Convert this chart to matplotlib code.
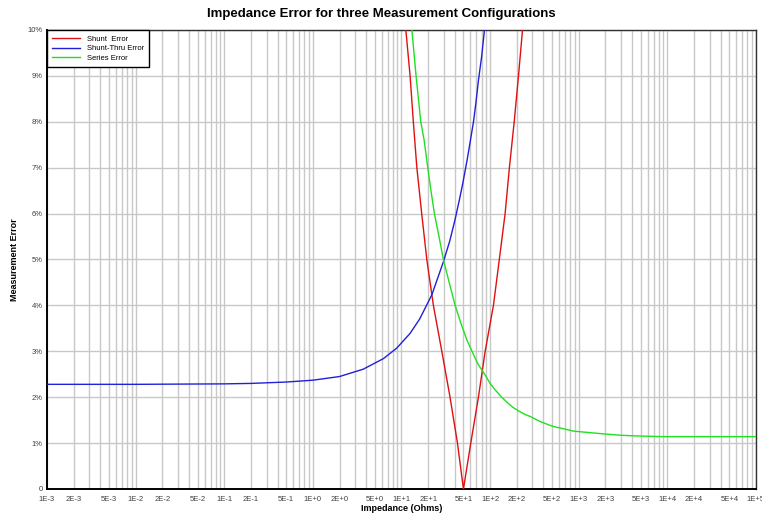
import matplotlib
matplotlib.use("Agg")
import matplotlib.pyplot as plt
from matplotlib.ticker import FixedLocator, LogLocator, NullFormatter

plt.rcParams['font.family'] = ['Liberation Sans', 'DejaVu Sans']

# values (impedance in ohms, error in %)
shunt_z = [11.2, 12.5, 13.6, 14.9, 16.9, 19.3, 22.9, 28.5, 35.3, 42.8, 50.0,
           60.5, 73.8, 87.9, 109, 127, 147.6, 165, 187, 209, 232]
shunt_err = [10, 9, 8, 7, 6, 5, 4, 3, 2, 1, 0,
             1, 2, 3, 4, 5, 6, 7, 8, 9, 10]

thru_z = [0.001, 0.01, 0.1, 0.2, 0.5, 1, 2, 3.7, 6.25, 8.85, 12.5, 16, 22,
          29.7, 35, 40, 45, 49.2, 55.4, 60, 64.9, 69, 73.8, 80, 86.3]
thru_err = [2.28, 2.28, 2.29, 2.30, 2.33, 2.37, 2.45, 2.61, 2.84, 3.07, 3.39,
            3.70, 4.23, 4.95, 5.4, 5.85, 6.3, 6.66, 7.2, 7.6, 8.0, 8.4, 8.9,
            9.4, 10.0]

series_z = [13.1, 14.6, 16.5, 18.0, 19.8, 21.5, 23.5, 26.5, 29.7, 34.5, 40.3,
            47, 54.6, 63.8, 73, 85.5, 100, 115, 135, 155, 180, 218, 250, 283,
            366, 440, 519, 680, 873, 1300, 1900, 3000, 4520, 9000, 100000]
series_err = [10.0, 9.0, 8.0, 7.6, 7.0, 6.5, 6.0, 5.5, 5.0, 4.5, 4.0,
              3.6, 3.25, 2.96, 2.72, 2.52, 2.30, 2.15, 2.0, 1.89, 1.78, 1.68,
              1.62, 1.58, 1.47, 1.41, 1.36, 1.31, 1.26, 1.23, 1.20, 1.17,
              1.155, 1.14, 1.14]

x_ticks = [1e-3, 2e-3, 5e-3, 1e-2, 2e-2, 5e-2, 1e-1, 2e-1, 5e-1, 1e0, 2e0, 5e0,
           1e1, 2e1, 5e1, 1e2, 2e2, 5e2, 1e3, 2e3, 5e3, 1e4, 2e4, 5e4, 1e5]
x_labels = ['1E-3', '2E-3', '5E-3', '1E-2', '2E-2', '5E-2', '1E-1', '2E-1', '5E-1',
            '1E+0', '2E+0', '5E+0', '1E+1', '2E+1', '5E+1', '1E+2', '2E+2', '5E+2',
            '1E+3', '2E+3', '5E+3', '1E+4', '2E+4', '5E+4', '1E+5']
y_ticks = list(range(11))
y_labels = ['0'] + [f'{v}%' for v in range(1, 11)]

fig = plt.figure(figsize=(7.62, 5.17), dpi=100)
ax = fig.add_axes([0.0617, 0.0542, 0.9304, 0.8878])

ax.plot(shunt_z, shunt_err, color='#e01010', lw=1.0, label='Shunt  Error', zorder=3)
ax.plot(thru_z, thru_err, color='#2020d8', lw=1.0, label='Shunt-Thru Error', zorder=3)
ax.plot(series_z, series_err, color='#20e020', lw=1.0, label='Series Error', zorder=3)

ax.set_xscale('log')
ax.set_xlim(1e-3, 1e5)
ax.set_ylim(0, 10)

ax.xaxis.set_major_locator(FixedLocator(x_ticks))
ax.xaxis.set_minor_locator(LogLocator(base=10, subs=range(1, 10), numticks=100))
ax.xaxis.set_minor_formatter(NullFormatter())
ax.set_xticks(x_ticks, x_labels)
ax.set_yticks(y_ticks, y_labels)

ax.grid(True, which='minor', axis='x', color='#c8c8c8', lw=1.0)
ax.grid(True, which='major', axis='x', color='#c8c8c8', lw=1.0)
ax.grid(True, axis='y', color='#c8c8c8', lw=1.0)
ax.set_axisbelow(True)

ax.tick_params(which='both', length=0, labelsize=5.5, labelcolor='#404040')
ax.tick_params(axis='x', pad=5)
ax.tick_params(axis='y', pad=3)

for side in ['left', 'bottom']:
    ax.spines[side].set_linewidth(1.4)
for side in ['top', 'right']:
    ax.spines[side].set_linewidth(1.0)
    ax.spines[side].set_color('#303030')

ax.set_xlabel('Impedance (Ohms)', fontsize=6.5, fontweight='bold', labelpad=1)
ax.set_ylabel('Measurement Error', fontsize=6.5, fontweight='bold', labelpad=6)
fig.suptitle('Impedance Error for three Measurement Configurations',
             fontsize=9.5, fontweight='bold', y=0.985)

leg = ax.legend(loc='upper left', fontsize=5.5, handlelength=3.6, fancybox=False,
                framealpha=1, edgecolor='black', borderaxespad=0, borderpad=0.7,
                labelspacing=0.3, handletextpad=0.9)
leg.get_frame().set_linewidth(1.0)

fig.savefig('out.png', dpi=100)
